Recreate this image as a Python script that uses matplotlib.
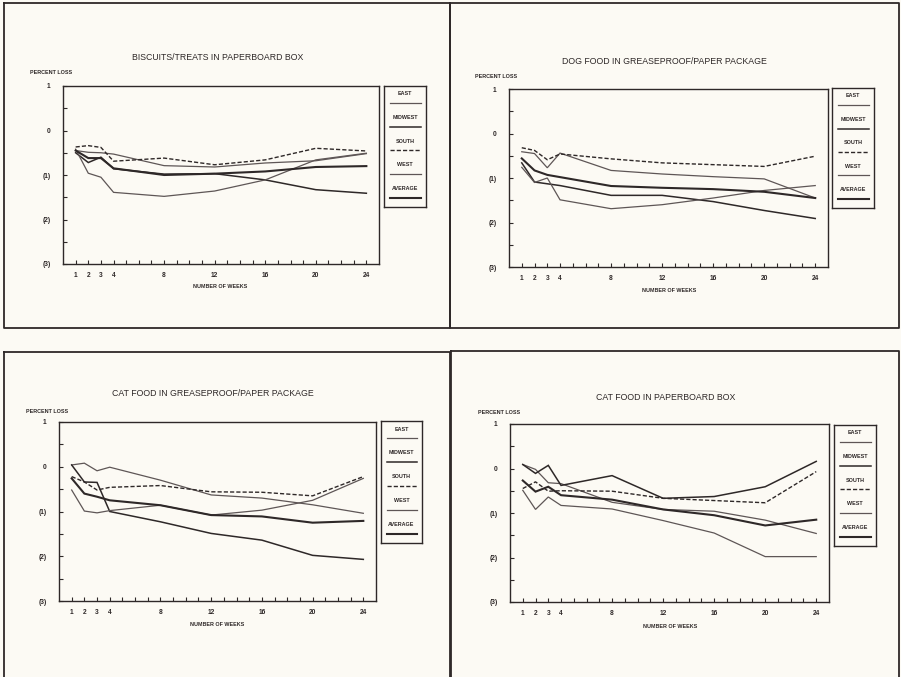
import matplotlib
matplotlib.use("Agg")
import matplotlib.pyplot as plt
from matplotlib.lines import Line2D

W, H = 901, 677
INK = '#2e2828'
GREY = '#5e5656'
PAPER = '#fcfaf4'

plt.rcParams['font.family'] = ['Liberation Sans', 'DejaVu Sans']

# weeks of storage
weeks = [1, 2, 3, 4, 8, 12, 16, 20, 24]
week_labels = [1, 2, 3, 4, 8, 12, 16, 20, 24]
y_ticks = [1, 0, -1, -2, -3]
y_labels = ['1', '0', '(1)', '(2)', '(3)']
regions = ['EAST', 'MIDWEST', 'SOUTH', 'WEST', 'AVERAGE']

# percent loss
biscuit_east = [-0.45, -0.49, -0.50, -0.53, -0.79, -0.82, -0.73, -0.68, -0.52]
biscuit_midwest = [-0.50, -0.72, -0.60, -0.86, -0.98, -0.97, -1.11, -1.33, -1.41]
biscuit_south = [-0.37, -0.34, -0.38, -0.69, -0.62, -0.77, -0.66, -0.40, -0.46]
biscuit_west = [-0.42, -0.96, -1.05, -1.39, -1.48, -1.36, -1.11, -0.66, -0.51]
biscuit_avg = [-0.45, -0.62, -0.62, -0.85, -1.00, -0.97, -0.92, -0.82, -0.80]

dog_east = [-0.41, -0.45, -0.77, -0.44, -0.83, -0.91, -0.97, -1.02, -1.45]
dog_midwest = [-0.66, -1.09, -1.13, -1.17, -1.39, -1.39, -1.53, -1.73, -1.91]
dog_south = [-0.32, -0.38, -0.59, -0.46, -0.57, -0.66, -0.70, -0.74, -0.51]
dog_west = [-0.76, -1.10, -1.00, -1.49, -1.69, -1.60, -1.45, -1.28, -1.17]
dog_avg = [-0.56, -0.83, -0.93, -0.98, -1.18, -1.22, -1.25, -1.31, -1.45]

catg_east = [0.04, 0.08, -0.09, -0.01, -0.30, -0.63, -0.70, -0.85, -1.04]
catg_midwest = [0.04, -0.34, -0.35, -1.00, -1.23, -1.49, -1.64, -1.98, -2.07]
catg_south = [-0.22, -0.34, -0.52, -0.46, -0.42, -0.56, -0.57, -0.65, -0.22]
catg_west = [-0.52, -0.99, -1.03, -0.98, -0.86, -1.08, -0.97, -0.75, -0.26]
catg_avg = [-0.26, -0.60, -0.67, -0.75, -0.86, -1.08, -1.11, -1.25, -1.21]

catb_east = [0.09, -0.02, -0.32, -0.34, -0.76, -0.92, -0.96, -1.16, -1.46]
catb_midwest = [0.09, -0.11, 0.07, -0.38, -0.16, -0.67, -0.63, -0.41, 0.16]
catb_south = [-0.45, -0.30, -0.51, -0.50, -0.51, -0.67, -0.72, -0.77, -0.07]
catb_west = [-0.49, -0.92, -0.64, -0.83, -0.91, -1.17, -1.45, -1.98, -1.98]
catb_avg = [-0.27, -0.52, -0.41, -0.60, -0.70, -0.92, -1.05, -1.28, -1.15]

styles = [dict(lw=0.9, ls='-', color=GREY), dict(lw=1.1, ls='-', color=INK),
          dict(lw=1.0, ls=(0, (3, 1.5)), color=INK), dict(lw=0.9, ls='-', color=GREY),
          dict(lw=1.5, ls='-', color=INK)]


def box(x0, y0, x1, y1):
    # pixel box (top-left origin) -> figure fraction rect
    return [x0 / W, 1 - y1 / H, (x1 - x0) / W, (y1 - y0) / H]


def ftext(x, y, s, **kw):
    fig.text(x / W, 1 - y / H, s, color=INK, **kw)


fig = plt.figure(figsize=(W / 100, H / 100), dpi=100, facecolor=PAPER)

# panel frames
for (x0, y0, x1, y1) in [(4, 3, 450, 328), (450, 3, 899, 328), (4, 352, 450, 690), (451, 351, 899, 690)]:
    xs = [x0 / W, x1 / W, x1 / W, x0 / W, x0 / W]
    ys = [1 - y0 / H, 1 - y0 / H, 1 - y1 / H, 1 - y1 / H, 1 - y0 / H]
    fig.add_artist(Line2D(xs, ys, color=INK, lw=1.3, transform=fig.transFigure))

panels = [
    dict(title='BISCUITS/TREATS IN PAPERBOARD BOX', ax=(63, 86, 379, 264), leg=(384, 86, 426, 207),
         tt=(218, 58), pl=(30, 73), nw=(220, 287),
         data=[biscuit_east, biscuit_midwest, biscuit_south, biscuit_west, biscuit_avg]),
    dict(title='DOG FOOD IN GREASEPROOF/PAPER PACKAGE', ax=(509, 89, 828, 267), leg=(832, 88, 874, 208),
         tt=(664, 61), pl=(475, 77), nw=(669, 290),
         data=[dog_east, dog_midwest, dog_south, dog_west, dog_avg]),
    dict(title='CAT FOOD IN GREASEPROOF/PAPER PACKAGE', ax=(59, 422, 376, 601), leg=(381, 421, 422, 543),
         tt=(213, 394), pl=(26, 411), nw=(217, 625),
         data=[catg_east, catg_midwest, catg_south, catg_west, catg_avg]),
    dict(title='CAT FOOD IN PAPERBOARD BOX', ax=(510, 424, 829, 602), leg=(834, 425, 876, 546),
         tt=(666, 397), pl=(478, 413), nw=(670, 627),
         data=[catb_east, catb_midwest, catb_south, catb_west, catb_avg]),
]

for p in panels:
    ax = fig.add_axes(box(*p['ax']))
    ax.set_facecolor(PAPER)
    for vals, st in zip(p['data'], styles):
        ax.plot(weeks, vals, solid_joinstyle='miter', **st)
    ax.set_xlim(0, 25)
    ax.set_ylim(-3, 1)
    ax.set_xticks(week_labels)
    ax.set_xticklabels([str(w) for w in week_labels], fontsize=4.8, fontweight='bold', color=INK)
    ax.set_xticks(range(1, 25), minor=True)
    ax.set_yticks(y_ticks)
    ax.set_yticklabels(y_labels, fontsize=4.8, fontweight='bold', color=INK)
    ax.set_yticks([0.5, -0.5, -1.5, -2.5], minor=True)
    ax.tick_params(which='both', direction='in', length=3, width=0.8, color=INK, pad=6)
    ax.tick_params(axis='y', which='major', pad=9)
    for s in ax.spines.values():
        s.set_color(INK)
        s.set_linewidth(1.0)

    ftext(p['tt'][0], p['tt'][1], p['title'], fontsize=6.3, ha='center', va='center')
    ftext(p['pl'][0], p['pl'][1], 'PERCENT LOSS', fontsize=3.9, fontweight='bold', ha='left', va='center')
    ftext(p['nw'][0], p['nw'][1], 'NUMBER OF WEEKS', fontsize=3.9, fontweight='bold', ha='center', va='center')

    # legend box: label above a sample line
    lg = fig.add_axes(box(*p['leg']))
    lg.set_facecolor(PAPER)
    lg.set_xlim(0, 1)
    lg.set_ylim(0, 1)
    lg.set_xticks([])
    lg.set_yticks([])
    for s in lg.spines.values():
        s.set_color(INK)
        s.set_linewidth(1.0)
    for i, (name, st) in enumerate(zip(regions, styles)):
        top = 1 - i * 0.195
        lg.text(0.5, top - 0.066, name, fontsize=3.9, fontweight='bold', ha='center', va='center', color=INK)
        lg.add_line(Line2D([0.14, 0.87], [top - 0.143, top - 0.143], **st))

fig.savefig('out.png', dpi=100, facecolor=PAPER)
